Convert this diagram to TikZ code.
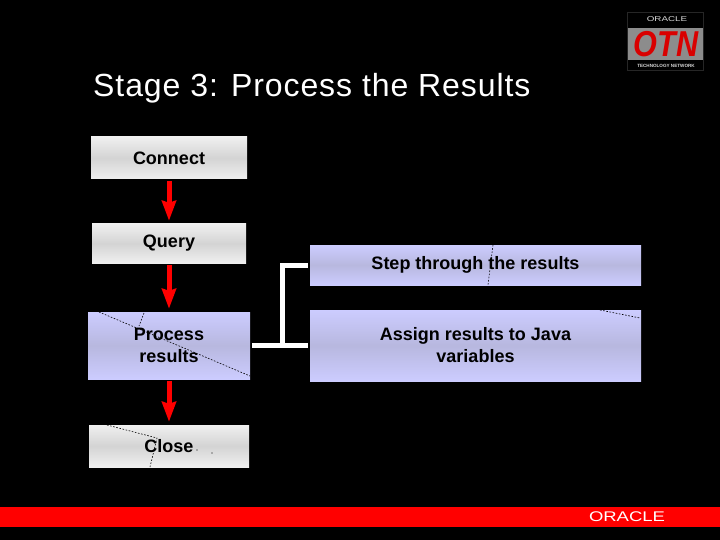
\documentclass[tikz,border=0pt]{standalone}
\usepackage{fontspec}
\setmainfont{Liberation Sans}
\usetikzlibrary{arrows.meta}
\newfontfamily\titlefont[LetterSpace=2.9]{Liberation Sans}
\tikzset{
  x=1pt,y=-1pt,
  box/.style={inset/.initial=0,rectangle,draw=none,inner sep=0pt,align=center,font=\fontsize{18}{22}\selectfont\bfseries,text=black,shading angle=135},
  greybox/.style={box,top color=#1,bottom color=#1,middle color=black!17},
  greybox/.default={black!6},
  bluebox/.style={box,top color=#1,bottom color=#1,middle color=blue!55!black!28!white},
  bluebox/.default={blue!20!white},
  flow/.style={draw=red,line width=5pt,-{Stealth[length=20pt,width=14pt,inset=2pt,fill=red]},shorten >=3pt,shorten <=2pt},
  bracket/.style={draw=white,line width=5pt,shorten >=2pt,shorten <=2pt},
  artifact/.style={draw=black,line width=0.6pt,dash pattern=on 1.6pt off 1.6pt},
}
\begin{document}
\begin{tikzpicture}
\useasboundingbox (0,0) rectangle (720,540);
\fill[black] (0,0) rectangle (720,540);
% title
\node[anchor=west,text=white,inner sep=0pt,font=\fontsize{32}{36}\selectfont\titlefont] (title) at (93,88) {Stage 3: Process the Results};
% boxes
\node[greybox,minimum width=156pt,minimum height=42pt] (connect) at (169,158) {Connect};
\node[greybox,minimum width=154pt,minimum height=39pt] (query) at (169,243.5) {Query};
\node[bluebox,minimum width=162pt,minimum height=67pt] (process) at (169,345.5) {Process\\results};
\node[greybox,minimum width=160pt,minimum height=42pt] (close) at (169,446) {Close};
\node[bluebox,minimum width=331pt,minimum height=40pt] (stepthrough) at (475.5,265) {Step through the results};
\node[bluebox,minimum width=331pt,minimum height=71pt] (assign) at (475.5,345.5) {Assign results to Java\\variables};
% arrows
\draw[flow] (connect) -- (query);
\draw[flow] (query) -- (process);
\draw[flow] (process) -- (close);
% bracket
\coordinate (junction) at (282,345.5);
\draw[bracket] (process.east) -- (assign.west);
\draw[bracket,shorten <=0pt] (junction) |- (stepthrough.west);
% thin dashed marks
\draw[artifact] (99,312) -- (250,376);
\draw[artifact] (144,313) -- (139,326);
\draw[artifact] (107,425) -- (157,438) -- (150,467);
\draw[artifact] (493,245) -- (488,285);
\draw[artifact] (600,310) -- (640,318);
\fill[black] (197,450) circle (0.7) (212,453) circle (0.7);
% bottom bar
\fill[red] (0,507) rectangle (720,527);
\node[text=white,inner sep=0pt,font=\fontsize{14}{14}\selectfont] (oracle) at (627,517) {\scalebox{1.32}[1]{ORACLE}};
% OTN logo
\fill[black!85] (627,12) rectangle (704,71);
\fill[black] (628,13) rectangle (703,70);
\fill[black!45] (628,28) rectangle (703,60);
\node[text=white!85!black,inner sep=0pt,font=\fontsize{7}{7}\selectfont] (logotop) at (667,19.5) {\scalebox{1.4}[1]{ORACLE}};
\node[text=red!85!black,inner sep=0pt,font=\fontsize{36}{36}\selectfont\bfseries\itshape] (otn) at (666,44) {\scalebox{0.85}[1]{OTN}};
\node[text=white!85!black,inner sep=0pt,font=\fontsize{4.6}{5}\selectfont\bfseries] (logobot) at (666,65.5) {TECHNOLOGY NETWORK};
\end{tikzpicture}
\end{document}
